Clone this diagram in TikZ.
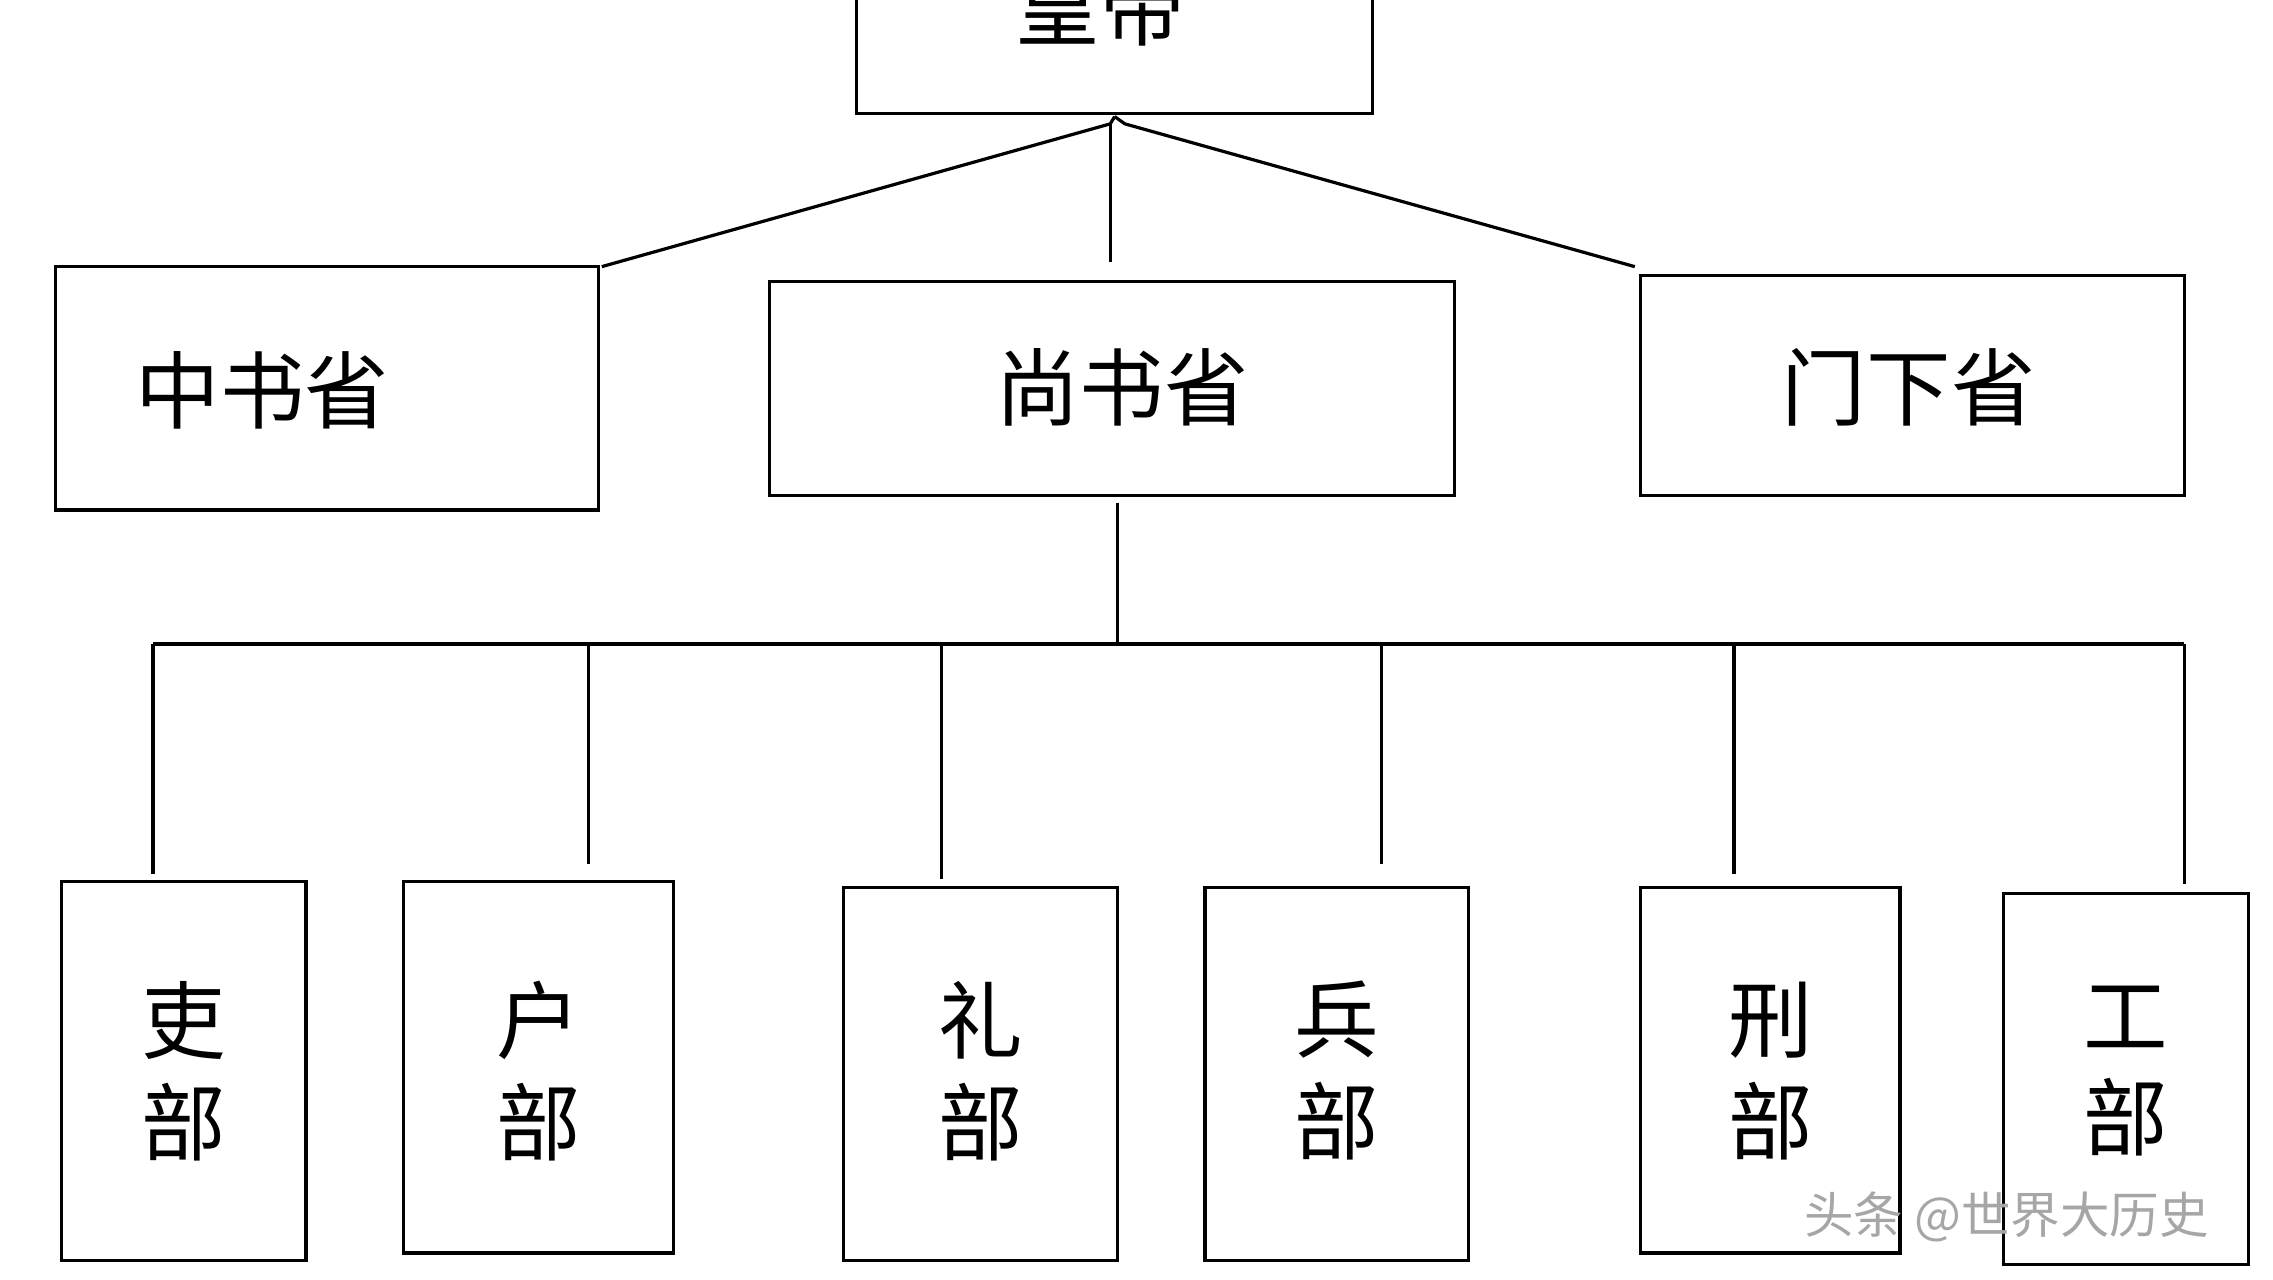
\documentclass[tikz,border=0pt]{standalone}
\usepackage{fontspec}
\newfontfamily\cjk{Noto Sans CJK SC}
\begin{document}
\begin{tikzpicture}[x=1pt,y=-1pt,
  box/.style={draw,line width=2.2pt,inner sep=0pt},
  lab/.style={font=\cjk\fontsize{58}{70}\selectfont,align=center},
  ln/.style={line width=2.2pt}]
\useasboundingbox (0,0) rectangle (1560,878);
\begin{scope}
\clip (0,0) rectangle (1560,878);
\draw[box] (588,-60) rectangle (942,78);
\node[lab] (hd) at (755,5) {皇帝};
\end{scope}
\coordinate (t) at (765,80);
\coordinate (tl) at (762,85);
\coordinate (tr) at (772,85);
\draw[box] (38,183) rectangle (411,350);
\node[lab] (zs) at (180,268) {中书省};
\draw[box] (528,193) rectangle (998,340);
\node[lab] (ss) at (770,266) {尚书省};
\draw[box] (1126,189) rectangle (1499,340);
\node[lab] (mx) at (1310,266) {门下省};
\coordinate (a1) at (413,183);
\coordinate (a2) at (762,180);
\coordinate (a3) at (1122,183);
\draw[ln] (t) -- (tl) -- (a1);
\draw[ln] (tl) -- (a2);
\draw[ln] (t) -- (tr) -- (a3);
\coordinate (b0) at (767,345);
\coordinate (b1) at (767,442);
\draw[ln] (b0) -- (b1);
\coordinate (hl) at (105,442);
\coordinate (hr) at (1499,442);
\draw[ln] (hl) -- (hr);
\foreach \x/\y/\l/\r/\t/\b/\txt in {
  105/600/42/210/605/865/吏,
  404/593/277/462/605/860/户,
  646/603/579/767/609/865/礼,
  948/593/827/1008/609/865/兵,
  1190/600/1126/1304/609/860/刑,
  1499/607/1375/1543/613/868/工}{
  \draw[ln] (\x,442) -- (\x,\y);
  \draw[box] (\l,\t) rectangle (\r,\b);
  \node[lab] at ({(\l+\r)/2},735) {\txt\\部};
}
\node[font=\cjk\fontsize{34}{40}\selectfont,text=gray!70] (wm) at (1377,835) {头条 @世界大历史};
\end{tikzpicture}
\end{document}
